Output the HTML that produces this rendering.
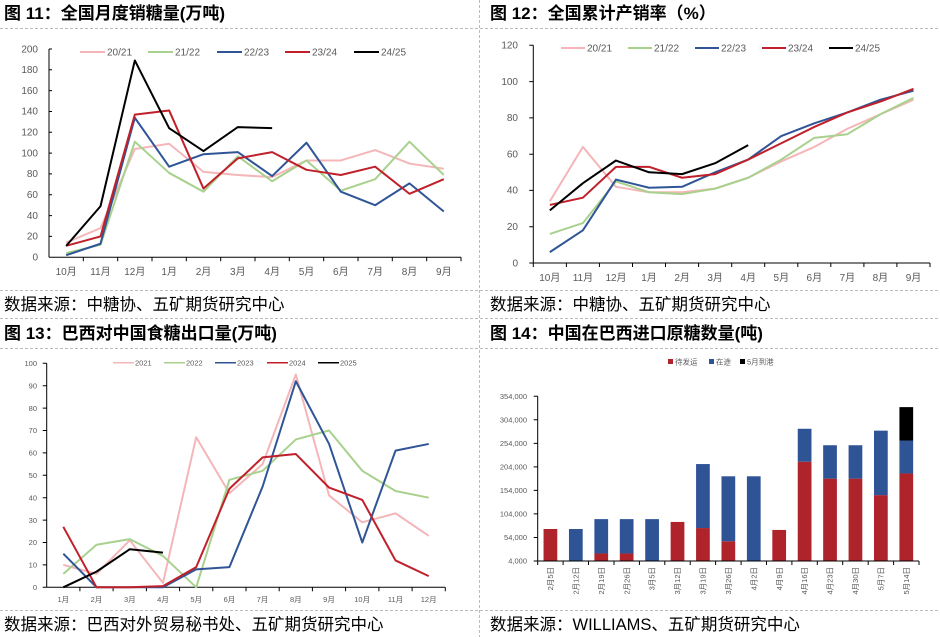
<!DOCTYPE html>
<html><head><meta charset="utf-8"><style>
body{margin:0;background:#fff;}
svg{display:block;font-family:"Liberation Sans","Noto Sans CJK SC",sans-serif;}
.t{font-size:17px;font-weight:bold;fill:#000;}
.s{font-size:16.5px;fill:#000;}
.ax{font-size:10px;fill:#595959;}
.ax3{font-size:7.5px;fill:#595959;}
.l{fill:none;stroke-width:2;vector-effect:non-scaling-stroke;stroke-linejoin:round;}
.sep{stroke:#bbb;stroke-dasharray:3,2;stroke-width:1;}
</style></head><body>
<svg width="940" height="637" viewBox="0 0 940 637">
<line class="sep" x1="0" y1="28.5" x2="940" y2="28.5"/>
<line class="sep" x1="0" y1="290.5" x2="940" y2="290.5"/>
<line class="sep" x1="0" y1="318.5" x2="940" y2="318.5"/>
<line class="sep" x1="0" y1="348.5" x2="940" y2="348.5"/>
<line class="sep" x1="0" y1="610.5" x2="940" y2="610.5"/>
<line class="sep" x1="479.5" y1="0" x2="479.5" y2="637"/>

<text class="t" x="4" y="19">图 11：全国月度销糖量(万吨)</text>
<text class="t" x="490" y="19">图 12：全国累计产销率（%）</text>
<text class="t" x="4" y="339">图 13：巴西对中国食糖出口量(万吨)</text>
<text class="t" x="490" y="339">图 14：中国在巴西进口原糖数量(吨)</text>
<text class="s" x="4" y="310">数据来源：中糖协、五矿期货研究中心</text>
<text class="s" x="490" y="310">数据来源：中糖协、五矿期货研究中心</text>
<text class="s" x="4" y="630">数据来源：巴西对外贸易秘书处、五矿期货研究中心</text>
<text class="s" x="490" y="630">数据来源：WILLIAMS、五矿期货研究中心</text>

<!-- Panel 1 -->
<g stroke="#000" stroke-width="1">
<line x1="49" y1="49" x2="49" y2="257.3"/>
<line x1="49" y1="257.3" x2="461" y2="257.3"/>
</g>
<g class="ax" text-anchor="end">
<text x="38" y="260.5">0</text><text x="38" y="239.7">20</text><text x="38" y="218.9">40</text><text x="38" y="198">60</text><text x="38" y="177.2">80</text><text x="38" y="156.4">100</text><text x="38" y="135.6">120</text><text x="38" y="114.7">140</text><text x="38" y="93.9">160</text><text x="38" y="73.1">180</text><text x="38" y="52.3">200</text>
</g>
<g class="ax" text-anchor="middle">
<text x="66.2" y="275">10月</text><text x="100.5" y="275">11月</text><text x="134.8" y="275">12月</text><text x="169.2" y="275">1月</text><text x="203.5" y="275">2月</text><text x="237.8" y="275">3月</text><text x="272.2" y="275">4月</text><text x="306.5" y="275">5月</text><text x="340.8" y="275">6月</text><text x="375.2" y="275">7月</text><text x="409.5" y="275">8月</text><text x="443.8" y="275">9月</text>
</g>
<g stroke="#000" stroke-width="1">
<path d="M49,69.8h3M49,90.6h3M49,111.5h3M49,132.3h3M49,153.1h3M49,173.9h3M49,194.8h3M49,215.6h3M49,236.4h3M49,49h3"/>
<path d="M83.3,257.3v4M117.7,257.3v4M152,257.3v4M186.3,257.3v4M220.7,257.3v4M255,257.3v4M289.3,257.3v4M323.7,257.3v4M358,257.3v4M392.3,257.3v4M426.7,257.3v4M461,257.3v4"/>
</g>
<g transform="translate(49,257.3) scale(34.33,-1.0415)">
<polyline class="l" stroke="#F4B6B8" points="0.5,14 1.5,28 2.5,104 3.5,109 4.5,82 5.5,79 6.5,77 7.5,93 8.5,93 9.5,103 10.5,90 11.5,85"/>
<polyline class="l" stroke="#A9D18E" points="0.5,4 1.5,12 2.5,111 3.5,81 4.5,63 5.5,97 6.5,73 7.5,93 8.5,64 9.5,75 10.5,111 11.5,79"/>
<polyline class="l" stroke="#2F5597" points="0.5,2 1.5,13 2.5,134 3.5,87 4.5,99 5.5,101 6.5,78 7.5,110 8.5,63 9.5,50 10.5,71 11.5,44"/>
<polyline class="l" stroke="#C0202A" points="0.5,11 1.5,20 2.5,137 3.5,141 4.5,66 5.5,95 6.5,101 7.5,84 8.5,79 9.5,87 10.5,61 11.5,75"/>
<polyline class="l" stroke="#000" points="0.5,11 1.5,49 2.5,189 3.5,124 4.5,102 5.5,125 6.5,124"/>
</g>
<g stroke-width="2">
<line x1="80" y1="52" x2="105" y2="52" stroke="#F4B6B8"/>
<line x1="148" y1="52" x2="173" y2="52" stroke="#A9D18E"/>
<line x1="217" y1="52" x2="242" y2="52" stroke="#2F5597"/>
<line x1="285" y1="52" x2="310" y2="52" stroke="#C0202A"/>
<line x1="354" y1="52" x2="379" y2="52" stroke="#000"/>
</g>
<g class="ax"><text x="107" y="55.5">20/21</text><text x="175" y="55.5">21/22</text><text x="244" y="55.5">22/23</text><text x="312" y="55.5">23/24</text><text x="381" y="55.5">24/25</text></g>

<!-- Panel 2 -->
<g stroke="#000" stroke-width="1">
<line x1="533.3" y1="45.3" x2="533.3" y2="263"/>
<line x1="533.3" y1="263" x2="930" y2="263"/>
<path d="M533.3,45.3h-4M533.3,81.6h-4M533.3,117.9h-4M533.3,154.2h-4M533.3,190.4h-4M533.3,226.7h-4M533.3,263h-4"/>
<path d="M533.3,263v4M566.4,263v4M599.4,263v4M632.5,263v4M665.5,263v4M698.6,263v4M731.7,263v4M764.7,263v4M797.8,263v4M830.8,263v4M863.9,263v4M896.9,263v4M930,263v4"/>
</g>
<g class="ax" text-anchor="end">
<text x="518" y="266.3">0</text><text x="518" y="230">20</text><text x="518" y="193.7">40</text><text x="518" y="157.5">60</text><text x="518" y="121.2">80</text><text x="518" y="84.9">100</text><text x="518" y="48.6">120</text>
</g>
<g class="ax" text-anchor="middle">
<text x="549.8" y="281">10月</text><text x="582.9" y="281">11月</text><text x="616" y="281">12月</text><text x="649" y="281">1月</text><text x="682.1" y="281">2月</text><text x="715.1" y="281">3月</text><text x="748.2" y="281">4月</text><text x="781.3" y="281">5月</text><text x="814.3" y="281">6月</text><text x="847.4" y="281">7月</text><text x="880.4" y="281">8月</text><text x="913.5" y="281">9月</text>
</g>
<g transform="translate(533.3,263) scale(33.06,-1.814)">
<polyline class="l" stroke="#F4B6B8" points="0.5,34 1.5,64 2.5,42 3.5,39 4.5,39 5.5,41 6.5,47 7.5,56 8.5,64 9.5,74 10.5,82 11.5,90"/>
<polyline class="l" stroke="#A9D18E" points="0.5,16 1.5,22 2.5,45 3.5,39 4.5,38 5.5,41 6.5,47 7.5,57 8.5,69 9.5,71 10.5,82 11.5,91"/>
<polyline class="l" stroke="#2F5597" points="0.5,6 1.5,18 2.5,46 3.5,41.5 4.5,42 5.5,50 6.5,57 7.5,70 8.5,77 9.5,83 10.5,90 11.5,95"/>
<polyline class="l" stroke="#C0202A" points="0.5,32 1.5,36 2.5,53 3.5,53 4.5,47 5.5,49 6.5,57 7.5,66 8.5,75 9.5,83 10.5,89 11.5,96"/>
<polyline class="l" stroke="#000" points="0.5,29 1.5,44 2.5,56.5 3.5,50 4.5,49 5.5,55 6.5,65"/>
</g>
<g stroke-width="2">
<line x1="561" y1="48" x2="585" y2="48" stroke="#F4B6B8"/>
<line x1="628" y1="48" x2="652" y2="48" stroke="#A9D18E"/>
<line x1="695" y1="48" x2="719" y2="48" stroke="#2F5597"/>
<line x1="762" y1="48" x2="786" y2="48" stroke="#C0202A"/>
<line x1="829" y1="48" x2="853" y2="48" stroke="#000"/>
</g>
<g class="ax"><text x="587" y="51.5">20/21</text><text x="654" y="51.5">21/22</text><text x="721" y="51.5">22/23</text><text x="788" y="51.5">23/24</text><text x="855" y="51.5">24/25</text></g>

<!-- Panel 3 -->
<g stroke="#000" stroke-width="1">
<line x1="46.7" y1="363.3" x2="46.7" y2="587.3"/>
<line x1="46.7" y1="587.3" x2="445.3" y2="587.3"/>
<path d="M46.7,363.3h-4M46.7,385.7h-4M46.7,408.1h-4M46.7,430.5h-4M46.7,452.9h-4M46.7,475.3h-4M46.7,497.7h-4M46.7,520.1h-4M46.7,542.5h-4M46.7,564.9h-4M46.7,587.3h-4"/>
<path d="M79.9,587.3v4M113.1,587.3v4M146.4,587.3v4M179.6,587.3v4M212.8,587.3v4M246,587.3v4M279.2,587.3v4M312.4,587.3v4M345.6,587.3v4M378.9,587.3v4M412.1,587.3v4M445.3,587.3v4"/>
</g>
<g class="ax3" text-anchor="end">
<text x="37" y="590">0</text><text x="37" y="567.6">10</text><text x="37" y="545.2">20</text><text x="37" y="522.8">30</text><text x="37" y="500.4">40</text><text x="37" y="478">50</text><text x="37" y="455.6">60</text><text x="37" y="433.2">70</text><text x="37" y="410.8">80</text><text x="37" y="388.4">90</text><text x="37" y="366">100</text>
</g>
<g class="ax3" text-anchor="middle">
<text x="63.3" y="602">1月</text><text x="96.5" y="602">2月</text><text x="129.8" y="602">3月</text><text x="163" y="602">4月</text><text x="196.2" y="602">5月</text><text x="229.4" y="602">6月</text><text x="262.6" y="602">7月</text><text x="295.8" y="602">8月</text><text x="329" y="602">9月</text><text x="362.2" y="602">10月</text><text x="395.5" y="602">11月</text><text x="428.7" y="602">12月</text>
</g>
<g transform="translate(46.7,587.3) scale(33.22,-2.24)">
<polyline class="l" stroke="#F4B6B8" points="0.5,10 1.5,6 2.5,21 3.5,2 4.5,67 5.5,42 6.5,55 7.5,95 8.5,41 9.5,29 10.5,33 11.5,23"/>
<polyline class="l" stroke="#A9D18E" points="0.5,6 1.5,19 2.5,21.5 3.5,14 4.5,0 5.5,48 6.5,52 7.5,66 8.5,70 9.5,52 10.5,43 11.5,40"/>
<polyline class="l" stroke="#2F5597" points="0.5,15 1.5,0 2.5,0 3.5,0 4.5,8 5.5,9 6.5,45 7.5,92 8.5,64 9.5,20 10.5,61 11.5,64"/>
<polyline class="l" stroke="#C0202A" points="0.5,27 1.5,0 2.5,0 3.5,0.5 4.5,9 5.5,44 6.5,58 7.5,59.5 8.5,44.5 9.5,39 10.5,12 11.5,5"/>
<polyline class="l" stroke="#000" points="0.5,0 1.5,7 2.5,17 3.5,15.5"/>
</g>
<g stroke-width="1.5">
<line x1="113" y1="362.7" x2="134" y2="362.7" stroke="#F4B6B8"/>
<line x1="164" y1="362.7" x2="185" y2="362.7" stroke="#A9D18E"/>
<line x1="215" y1="362.7" x2="236" y2="362.7" stroke="#2F5597"/>
<line x1="267" y1="362.7" x2="288" y2="362.7" stroke="#C0202A"/>
<line x1="318" y1="362.7" x2="339" y2="362.7" stroke="#000"/>
</g>
<g class="ax3"><text x="135" y="365.5">2021</text><text x="186" y="365.5">2022</text><text x="237" y="365.5">2023</text><text x="289" y="365.5">2024</text><text x="340" y="365.5">2025</text></g>

<!-- Panel 4 -->
<g transform="translate(537.7,561) scale(25.42,-0.0004706)">
<g fill="#AF232B">
<rect x="0.23" y="0" width="0.54" height="68000"/>
<rect x="2.23" y="0" width="0.54" height="16000"/>
<rect x="3.23" y="0" width="0.54" height="16000"/>
<rect x="5.23" y="0" width="0.54" height="83000"/>
<rect x="6.23" y="0" width="0.54" height="70000"/>
<rect x="7.23" y="0" width="0.54" height="42000"/>
<rect x="9.23" y="0" width="0.54" height="66000"/>
<rect x="10.23" y="0" width="0.54" height="211000"/>
<rect x="11.23" y="0" width="0.54" height="175000"/>
<rect x="12.23" y="0" width="0.54" height="175000"/>
<rect x="13.23" y="0" width="0.54" height="140000"/>
<rect x="14.23" y="0" width="0.54" height="186000"/>
</g>
<g fill="#2E5496">
<rect x="1.23" y="0" width="0.54" height="68000"/>
<rect x="2.23" y="16000" width="0.54" height="73000"/>
<rect x="3.23" y="16000" width="0.54" height="73000"/>
<rect x="4.23" y="0" width="0.54" height="89000"/>
<rect x="6.23" y="70000" width="0.54" height="136000"/>
<rect x="7.23" y="42000" width="0.54" height="138000"/>
<rect x="8.23" y="0" width="0.54" height="180000"/>
<rect x="10.23" y="211000" width="0.54" height="70000"/>
<rect x="11.23" y="175000" width="0.54" height="71000"/>
<rect x="12.23" y="175000" width="0.54" height="71000"/>
<rect x="13.23" y="140000" width="0.54" height="137000"/>
<rect x="14.23" y="186000" width="0.54" height="70000"/>
</g>
<rect x="14.23" y="256000" width="0.54" height="71000" fill="#000"/>
</g>
<g stroke="#000" stroke-width="1">
<line x1="537.7" y1="396.3" x2="537.7" y2="561"/>
<line x1="537.7" y1="561" x2="919" y2="561"/>
<path d="M537.7,396.3h-4M537.7,419.8h-4M537.7,443.4h-4M537.7,466.9h-4M537.7,490.4h-4M537.7,513.9h-4M537.7,537.5h-4M537.7,561h-4"/>
<path d="M537.7,561v4M563.1,561v4M588.5,561v4M614,561v4M639.4,561v4M664.8,561v4M690.2,561v4M715.6,561v4M741.1,561v4M766.5,561v4M791.9,561v4M817.3,561v4M842.7,561v4M868.2,561v4M893.6,561v4M919,561v4"/>
</g>
<g class="ax3" text-anchor="end">
<text x="527" y="563.5">4,000</text><text x="527" y="540">54,000</text><text x="527" y="516.4">104,000</text><text x="527" y="492.9">154,000</text><text x="527" y="469.4">204,000</text><text x="527" y="445.9">254,000</text><text x="527" y="422.3">304,000</text><text x="527" y="398.8">354,000</text>
</g>
<g class="ax3" text-anchor="end">
<text transform="translate(553,567) rotate(-90)">2月5日</text>
<text transform="translate(578.4,567) rotate(-90)">2月12日</text>
<text transform="translate(603.8,567) rotate(-90)">2月19日</text>
<text transform="translate(629.3,567) rotate(-90)">2月26日</text>
<text transform="translate(654.7,567) rotate(-90)">3月5日</text>
<text transform="translate(680.1,567) rotate(-90)">3月12日</text>
<text transform="translate(705.5,567) rotate(-90)">3月19日</text>
<text transform="translate(730.9,567) rotate(-90)">3月26日</text>
<text transform="translate(756.4,567) rotate(-90)">4月2日</text>
<text transform="translate(781.8,567) rotate(-90)">4月9日</text>
<text transform="translate(807.2,567) rotate(-90)">4月16日</text>
<text transform="translate(832.6,567) rotate(-90)">4月23日</text>
<text transform="translate(858,567) rotate(-90)">4月30日</text>
<text transform="translate(883.5,567) rotate(-90)">5月7日</text>
<text transform="translate(908.9,567) rotate(-90)">5月14日</text>
</g>
<rect x="668" y="359" width="5" height="5" fill="#AF232B"/>
<rect x="709" y="359" width="5" height="5" fill="#2E5496"/>
<rect x="740" y="359" width="5" height="5" fill="#000"/>
<g class="ax3"><text x="675" y="364.5">待发运</text><text x="716" y="364.5">在途</text><text x="747" y="364.5">5月到港</text></g>
</svg>
</body></html>
